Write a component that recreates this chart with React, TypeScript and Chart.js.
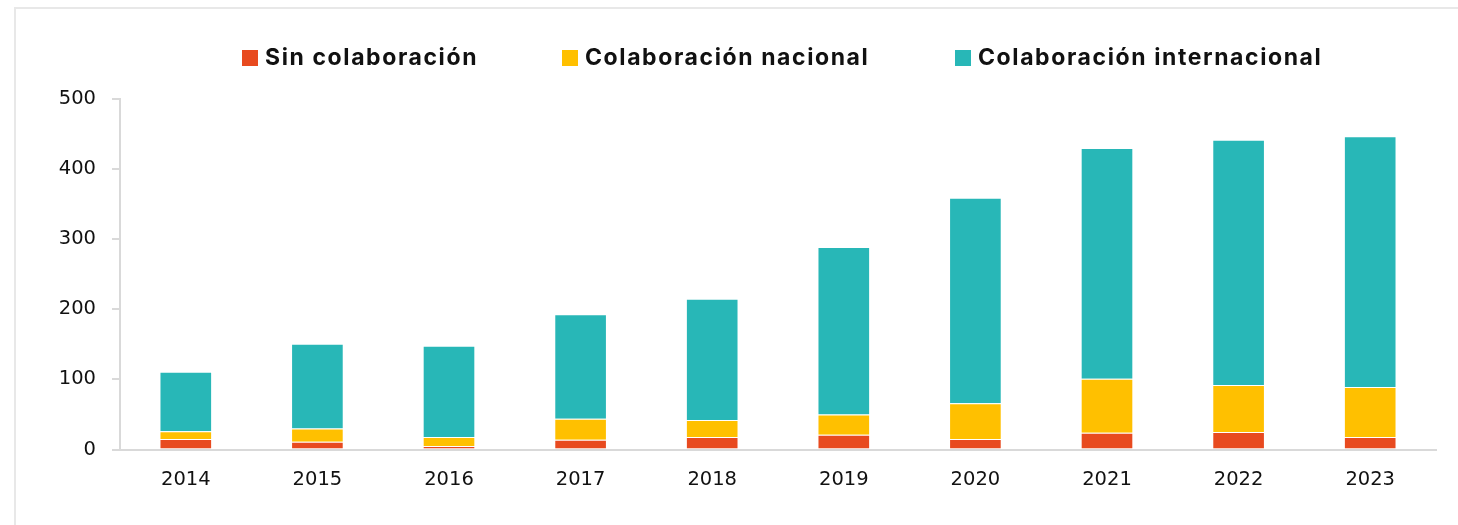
import React, { useEffect, useRef } from "react";
import { Chart, registerables } from "chart.js";

Chart.register(...registerables);

const YEARS = ["2014", "2015", "2016", "2017", "2018", "2019", "2020", "2021", "2022", "2023"];
const SIN_COLABORACION = [15, 11, 5, 14, 18, 21, 15, 24, 25, 18];
const COLAB_NACIONAL = [11, 19, 13, 30, 24, 29, 51, 77, 67, 71];
const COLAB_INTERNACIONAL = [85, 121, 130, 149, 173, 239, 293, 329, 350, 358];
const SERIES_LABELS = ["Sin colaboración", "Colaboración nacional", "Colaboración internacional"];
const Y_MAX = 500;
const Y_STEP = 100;

const COLORS = ["#E84A1F", "#FFC000", "#28B7B7"];
const LEGEND_BOX_X = [242, 562, 955];

const legendPlugin = {
  id: "topLegend",
  afterDraw(chart: any) {
    const ctx = chart.ctx;
    ctx.save();
    ctx.font = "bold 23px Inter";
    try {
      (ctx as any).letterSpacing = "1.6px";
    } catch (e) {}
    ctx.textBaseline = "middle";
    ctx.textAlign = "left";
    chart.data.datasets.forEach((ds: any, i: number) => {
      const x = LEGEND_BOX_X[i];
      ctx.fillStyle = ds.backgroundColor;
      ctx.fillRect(x, 50, 16, 16);
      ctx.fillStyle = "#111111";
      ctx.fillText(ds.label, x + 23, 58);
    });
    ctx.restore();
  },
};

export default function App() {
  const canvasRef = useRef<HTMLCanvasElement | null>(null);

  useEffect(() => {
    if (!canvasRef.current) return;
    const data = [SIN_COLABORACION, COLAB_NACIONAL, COLAB_INTERNACIONAL];
    const tickFont = { family: "DejaVu Sans", size: 19.5 };
    const chart = new Chart(canvasRef.current, {
      type: "bar",
      data: {
        labels: YEARS,
        datasets: data.map((values, i) => ({
          label: SERIES_LABELS[i],
          data: values,
          backgroundColor: COLORS[i],
          borderColor: "rgba(255,255,255,0.35)",
          borderWidth: 1,
          barPercentage: 0.4,
          categoryPercentage: 1,
        })),
      },
      options: {
        responsive: false,
        animation: false,
        layout: { padding: { top: 99, right: 22, bottom: 0, left: 0 } },
        plugins: {
          legend: { display: false },
          tooltip: { enabled: false },
        },
        scales: {
          x: {
            stacked: true,
            grid: { display: false, drawTicks: false },
            border: { display: true, color: "#d9d9d9", width: 2 },
            ticks: { color: "#111111", font: tickFont, padding: 19 },
            afterFit: (scale: any) => {
              scale.height = 75.5;
            },
          },
          y: {
            stacked: true,
            min: 0,
            max: Y_MAX,
            grid: {
              drawOnChartArea: false,
              drawTicks: true,
              tickLength: 8,
              color: "#d9d9d9",
              lineWidth: 2,
            },
            border: { display: true, color: "#d9d9d9", width: 2 },
            ticks: { stepSize: Y_STEP, color: "#111111", font: tickFont, padding: 16 },
            afterFit: (scale: any) => {
              scale.width = 120;
            },
          },
        },
      },
      plugins: [legendPlugin],
    });
    return () => chart.destroy();
  }, []);

  return (
    <div
      style={{
        position: "fixed",
        left: 0,
        top: 0,
        width: 1458,
        height: 525,
        overflow: "hidden",
        background: "#ffffff",
      }}
    >
      <div
        style={{
          position: "absolute",
          left: 14,
          top: 7,
          width: 1600,
          height: 700,
          border: "2px solid #e8e8e8",
          background: "#ffffff",
        }}
      />
      <canvas
        ref={canvasRef}
        width={1458}
        height={525}
        style={{ position: "absolute", left: 0, top: 0, width: 1458, height: 525 }}
      />
    </div>
  );
}
